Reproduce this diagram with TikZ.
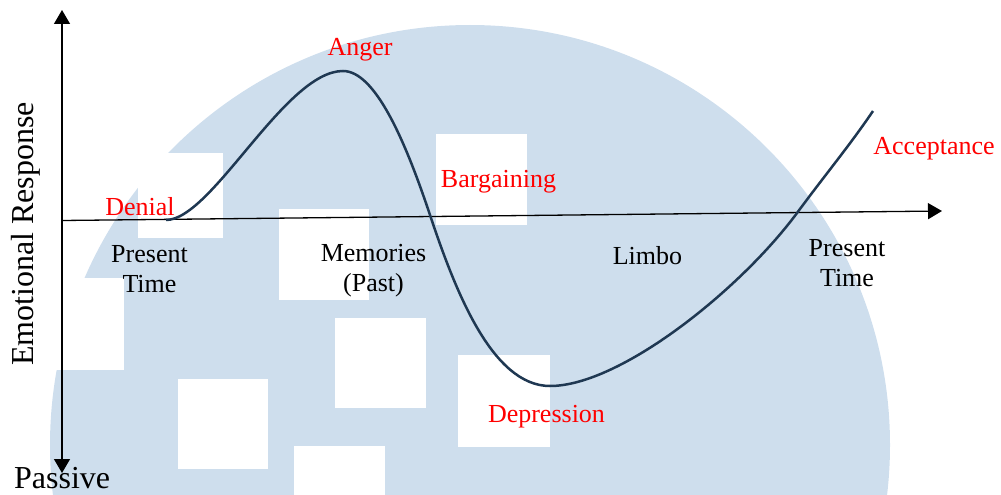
\documentclass[tikz,border=0pt]{standalone}
\usepackage{fontspec}
\setmainfont{Liberation Serif}
\usetikzlibrary{arrows.meta}
\definecolor{bgblue}{RGB}{206,222,237}
\definecolor{curvenavy}{RGB}{31,56,82}
\definecolor{labelred}{RGB}{255,0,0}
\begin{document}
\begin{tikzpicture}[x=1pt,y=-1pt,
  stage/.style={text=labelred, font=\fontsize{26pt}{30pt}\selectfont, inner sep=0pt, anchor=base},
  phase/.style={text=black, font=\fontsize{26pt}{30pt}\selectfont, inner sep=0pt, align=center, anchor=north},
  axislabel/.style={text=black, font=\fontsize{32pt}{36pt}\selectfont, inner sep=0pt},
  axisline/.style={line width=1.3pt, -{Triangle[length=14pt,width=16pt]}},
  axisboth/.style={line width=1.3pt, {Triangle[length=14pt,width=16pt]}-{Triangle[length=14pt,width=16pt]}},
  hole/.style={fill=white, draw=none},
  curveline/.style={draw=curvenavy, line width=2.5pt}]
\useasboundingbox (0,0) rectangle (1001,495);
% background disc with white squares
\begin{scope}
  \clip (0,0) rectangle (1001,495);
  \fill[bgblue] (470,445) circle[radius=420];
  \fill[hole] (33,278) rectangle (124,370);
  \fill[hole] (138,153) rectangle (223,238);
  \fill[hole] (279,209) rectangle (369,300);
  \fill[hole] (436,134) rectangle (527,225);
  \fill[hole] (335,318) rectangle (426,408);
  \fill[hole] (458,355) rectangle (550,447);
  \fill[hole] (294,446) rectangle (385,537);
  \fill[hole] (178,379) rectangle (268,469);
\end{scope}
% axes
\coordinate (vtop) at (62,10);
\coordinate (vbot) at (62,473);
\coordinate (hleft) at (62,220.5);
\coordinate (hright) at (942,211);
\draw[axisboth] (vbot) -- (vtop);
\draw[axisline] (hleft) -- (hright);
% emotional curve
\draw[curveline] (166,220) .. controls (212,220) and (285,71) .. (343,71)
  .. controls (375,71) and (405,140) .. (430,215)
  .. controls (455,290) and (492,386) .. (550,386)
  .. controls (620,386) and (740,290) .. (797,213)
  .. controls (825,175) and (850,145) .. (873,111);
% stage labels
\node[stage] (denial) at (140,215) {Denial};
\node[stage] (anger) at (360,56) {Anger};
\node[stage] (bargaining) at (498.5,187) {Bargaining};
\node[stage] (depression) at (546.5,422) {Depression};
\node[stage] (acceptance) at (934,154) {Acceptance};
% phase labels
\node[phase] (present1) at (149.5,245) {Present\\Time};
\node[phase] (memories) at (373.5,244.5) {Memories\\(Past)};
\node[stage, text=black] (limbo) at (647.5,264) {Limbo};
\node[phase] (present2) at (847,239) {Present\\Time};
% axis labels
\node[axislabel, rotate=90, anchor=base] (ylabel) at (33,234) {Emotional Response};
\node[axislabel, anchor=base west] (passive) at (14,488) {Passive};
\end{tikzpicture}
\end{document}
